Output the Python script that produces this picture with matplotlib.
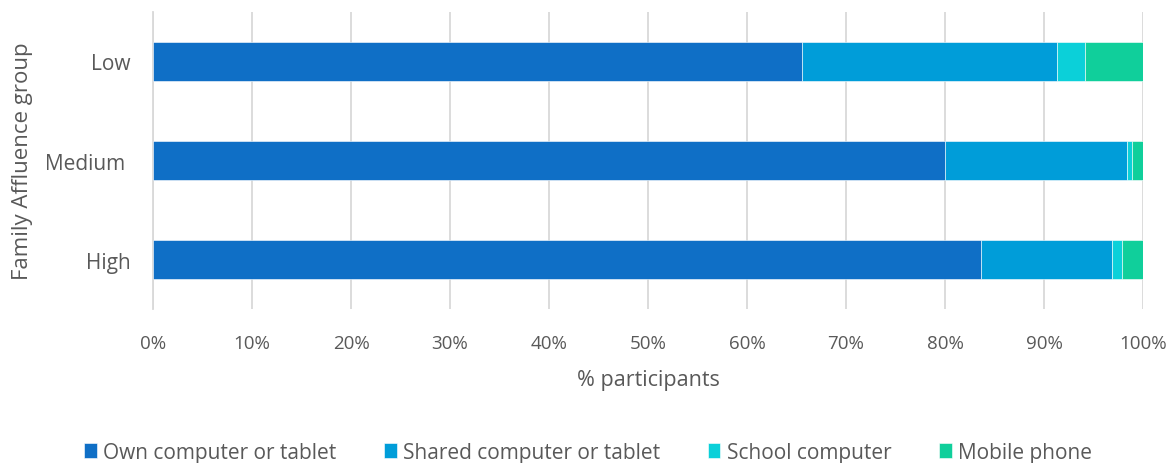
import matplotlib
matplotlib.use("Agg")
import matplotlib.pyplot as plt
from matplotlib.ticker import PercentFormatter

plt.rcParams['font.family'] = ['Open Sans', 'DejaVu Sans']

groups = ["Low", "Medium ", "High"]
series_names = ["Own computer or tablet", "Shared computer or tablet",
                "School computer", "Mobile phone"]
own = [65.6, 80.0, 83.6]
shared = [25.7, 18.4, 13.3]
school = [2.8, 0.5, 1.0]
mobile = [5.9, 1.1, 2.1]
colors = ["#0F6FC6", "#009DD9", "#0BD0D9", "#10CF9B"]

text_color = "#595959"
grid_color = "#D9D9D9"

fig = plt.figure(figsize=(11.76, 4.64), dpi=100)
ax = fig.add_axes([153/1176, 1 - 310/464, 990/1176, 297/464])

ypos = list(range(len(groups)))
left = [0.0] * len(groups)
for name, vals, col in zip(series_names, [own, shared, school, mobile], colors):
    ax.barh(ypos, vals, left=left, height=0.4, color=col, label=name,
            edgecolor="white", linewidth=0.4, zorder=3)
    left = [l + v for l, v in zip(left, vals)]

ax.set_xlim(0, 100)
ax.set_ylim(2.5, -0.5)
ax.set_xticks(range(0, 101, 10))
ax.xaxis.set_major_formatter(PercentFormatter(decimals=0))
ax.set_yticks(ypos)
ax.set_yticklabels(groups)

ax.grid(axis="x", color=grid_color, linewidth=1.3, zorder=0)
ax.grid(axis="y", visible=False)
for side in ["top", "right", "bottom"]:
    ax.spines[side].set_visible(False)
ax.spines["left"].set_color(grid_color)
ax.spines["left"].set_linewidth(1.3)

ax.tick_params(axis="x", length=0, labelsize=13.5, colors=text_color, pad=18)
ax.tick_params(axis="y", length=0, labelsize=15, colors=text_color, pad=16)

ax.set_xlabel("% participants", fontsize=15.5, color=text_color, labelpad=12)
ax.set_ylabel("Family Affluence group", fontsize=16, color=text_color)
ax.yaxis.set_label_coords(-120 / 990, 0.5)

handles, labels = ax.get_legend_handles_labels()
leg = fig.legend(handles, labels, loc="lower center", ncol=4, frameon=False,
                 bbox_to_anchor=(0.5, -0.04), fontsize=15, handlelength=0.6,
                 handleheight=0.7, handletextpad=0.3, columnspacing=2.3)
for t in leg.get_texts():
    t.set_color(text_color)

fig.savefig("out.png", dpi=100)
